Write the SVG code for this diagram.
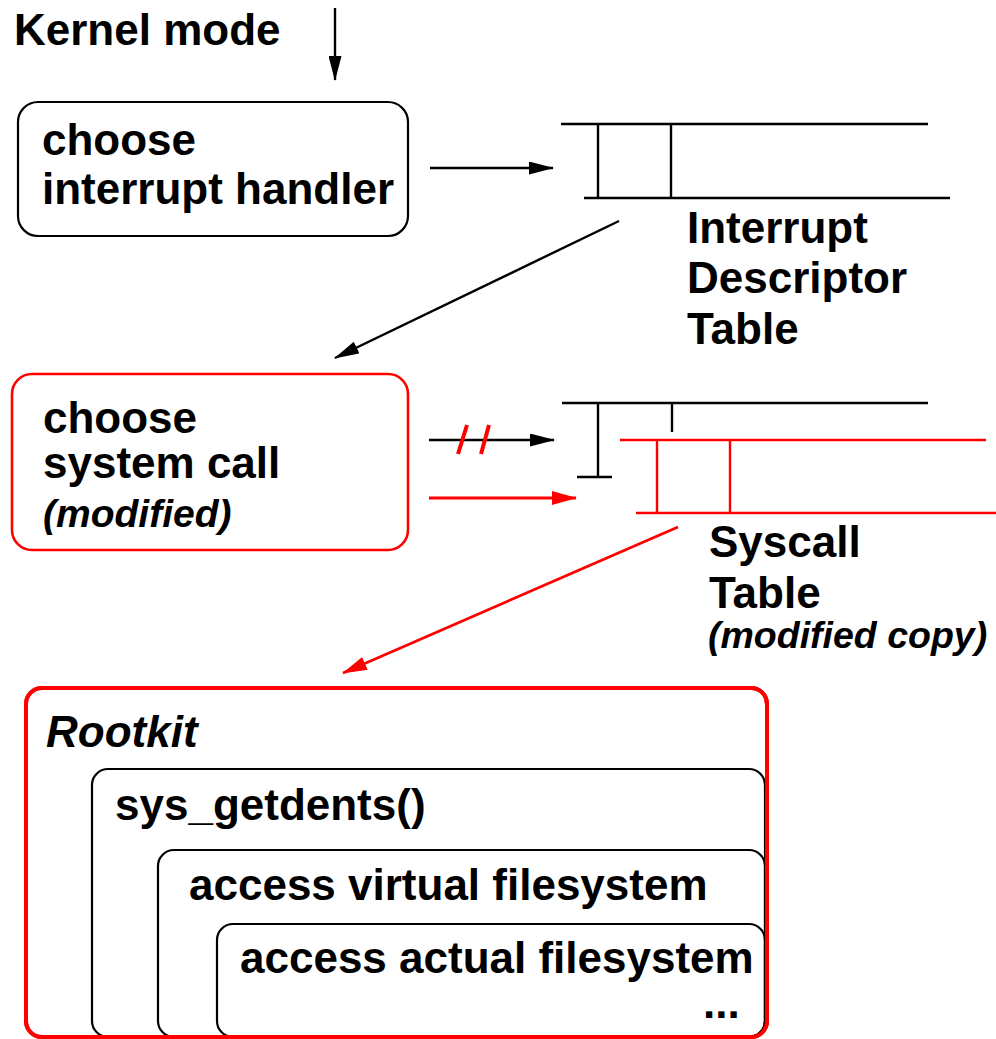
<svg xmlns="http://www.w3.org/2000/svg" width="996" height="1039" viewBox="0 0 996 1039">
<style>
text{font-family:"Liberation Sans",Arial,sans-serif;font-weight:bold;font-size:44px;fill:#000}
.it{font-style:italic}
.sm{font-size:39px}
.sm2{font-size:37.5px}
.box{fill:none;stroke:#000;stroke-width:2.2}
.rbox{fill:none;stroke:#f00;stroke-width:2.6}
.tl{stroke:#000;stroke-width:2.4;fill:none}
.rl{stroke:#f00;stroke-width:2.4;fill:none}
.cb{stroke:#000;stroke-width:2.4;fill:none}
.cr{stroke:#f00;stroke-width:2.8;fill:none}
</style>
<defs>
<marker id="ab" markerUnits="userSpaceOnUse" markerWidth="25" markerHeight="13" refX="24" refY="6.5" orient="auto"><path d="M0,0 L25,6.5 L0,13 z" fill="#000"/></marker>
<marker id="ar" markerUnits="userSpaceOnUse" markerWidth="25" markerHeight="14" refX="24" refY="7" orient="auto"><path d="M0,0 L25,7 L0,14 z" fill="#f00"/></marker>
</defs>

<g id="label-kernel"><text x="14" y="45">Kernel mode</text></g>

<g id="node-interrupt-handler">
<rect class="box" x="18" y="102" width="390" height="134" rx="20"/>
<text x="42" y="155">choose</text>
<text x="42" y="204">interrupt handler</text>
</g>

<g id="node-idt">
<line class="tl" x1="561" y1="124" x2="928" y2="124"/>
<line class="tl" x1="584" y1="198" x2="950" y2="198"/>
<line class="tl" x1="598" y1="124" x2="598" y2="198"/>
<line class="tl" x1="671" y1="124" x2="671" y2="198"/>
<text x="687" y="243">Interrupt</text>
<text x="687" y="293">Descriptor</text>
<text x="687" y="344">Table</text>
</g>

<g id="node-system-call">
<rect class="rbox" x="12" y="374" width="396" height="176" rx="20"/>
<text x="43" y="433">choose</text>
<text x="43" y="478">system call</text>
<text class="it sm" x="43" y="527">(modified)</text>
</g>

<g id="node-syscall-table">
<line class="tl" x1="562" y1="403" x2="928" y2="403"/>
<line class="tl" x1="598" y1="403" x2="598" y2="477"/>
<line class="tl" x1="577" y1="477" x2="612" y2="477"/>
<line class="tl" x1="672" y1="403" x2="672" y2="432"/>
</g>

<g id="node-syscall-copy">
<line class="rl" x1="620" y1="440" x2="986" y2="440"/>
<line class="rl" x1="636" y1="513" x2="996" y2="513"/>
<line class="rl" x1="657" y1="440" x2="657" y2="513"/>
<line class="rl" x1="730" y1="440" x2="730" y2="513"/>
<text x="709" y="557">Syscall</text>
<text x="709" y="608">Table</text>
<text class="it sm2" x="708" y="648">(modified copy)</text>
</g>

<g id="node-rootkit">
<rect x="26" y="688" width="741" height="349" rx="16" fill="none" stroke="#f00" stroke-width="4"/>
<text class="it" x="46" y="747">Rootkit</text>
</g>
<g id="node-getdents">
<rect class="box" x="92" y="769" width="673" height="268" rx="16"/>
<text x="115" y="820">sys_getdents()</text>
</g>
<g id="node-vfs">
<rect class="box" x="158" y="850" width="607" height="187" rx="16"/>
<text x="189" y="900">access virtual filesystem</text>
</g>
<g id="node-actual-fs">
<rect class="box" x="217" y="924" width="548" height="113" rx="16"/>
<text x="240" y="973">access actual filesystem</text>
<text x="703" y="1018">...</text>
</g>
<rect x="26" y="688" width="741" height="349" rx="16" fill="none" stroke="#f00" stroke-width="4"/>

<g id="connectors">
<line class="cb" x1="335" y1="8" x2="335" y2="80" marker-end="url(#ab)"/>
<line class="cb" x1="430" y1="168" x2="553" y2="168" marker-end="url(#ab)"/>
<line class="cb" x1="619" y1="221" x2="335" y2="358" marker-end="url(#ab)"/>
<line class="cb" x1="429" y1="440" x2="554" y2="440" marker-end="url(#ab)"/>
<line x1="467" y1="425" x2="458" y2="454" stroke="#f00" stroke-width="4"/>
<line x1="489" y1="425" x2="481" y2="454" stroke="#f00" stroke-width="4"/>
<line class="cr" x1="429" y1="498" x2="576" y2="498" marker-end="url(#ar)"/>
<line class="cr" x1="678" y1="527" x2="343" y2="673" marker-end="url(#ar)"/>
</g>
</svg>
